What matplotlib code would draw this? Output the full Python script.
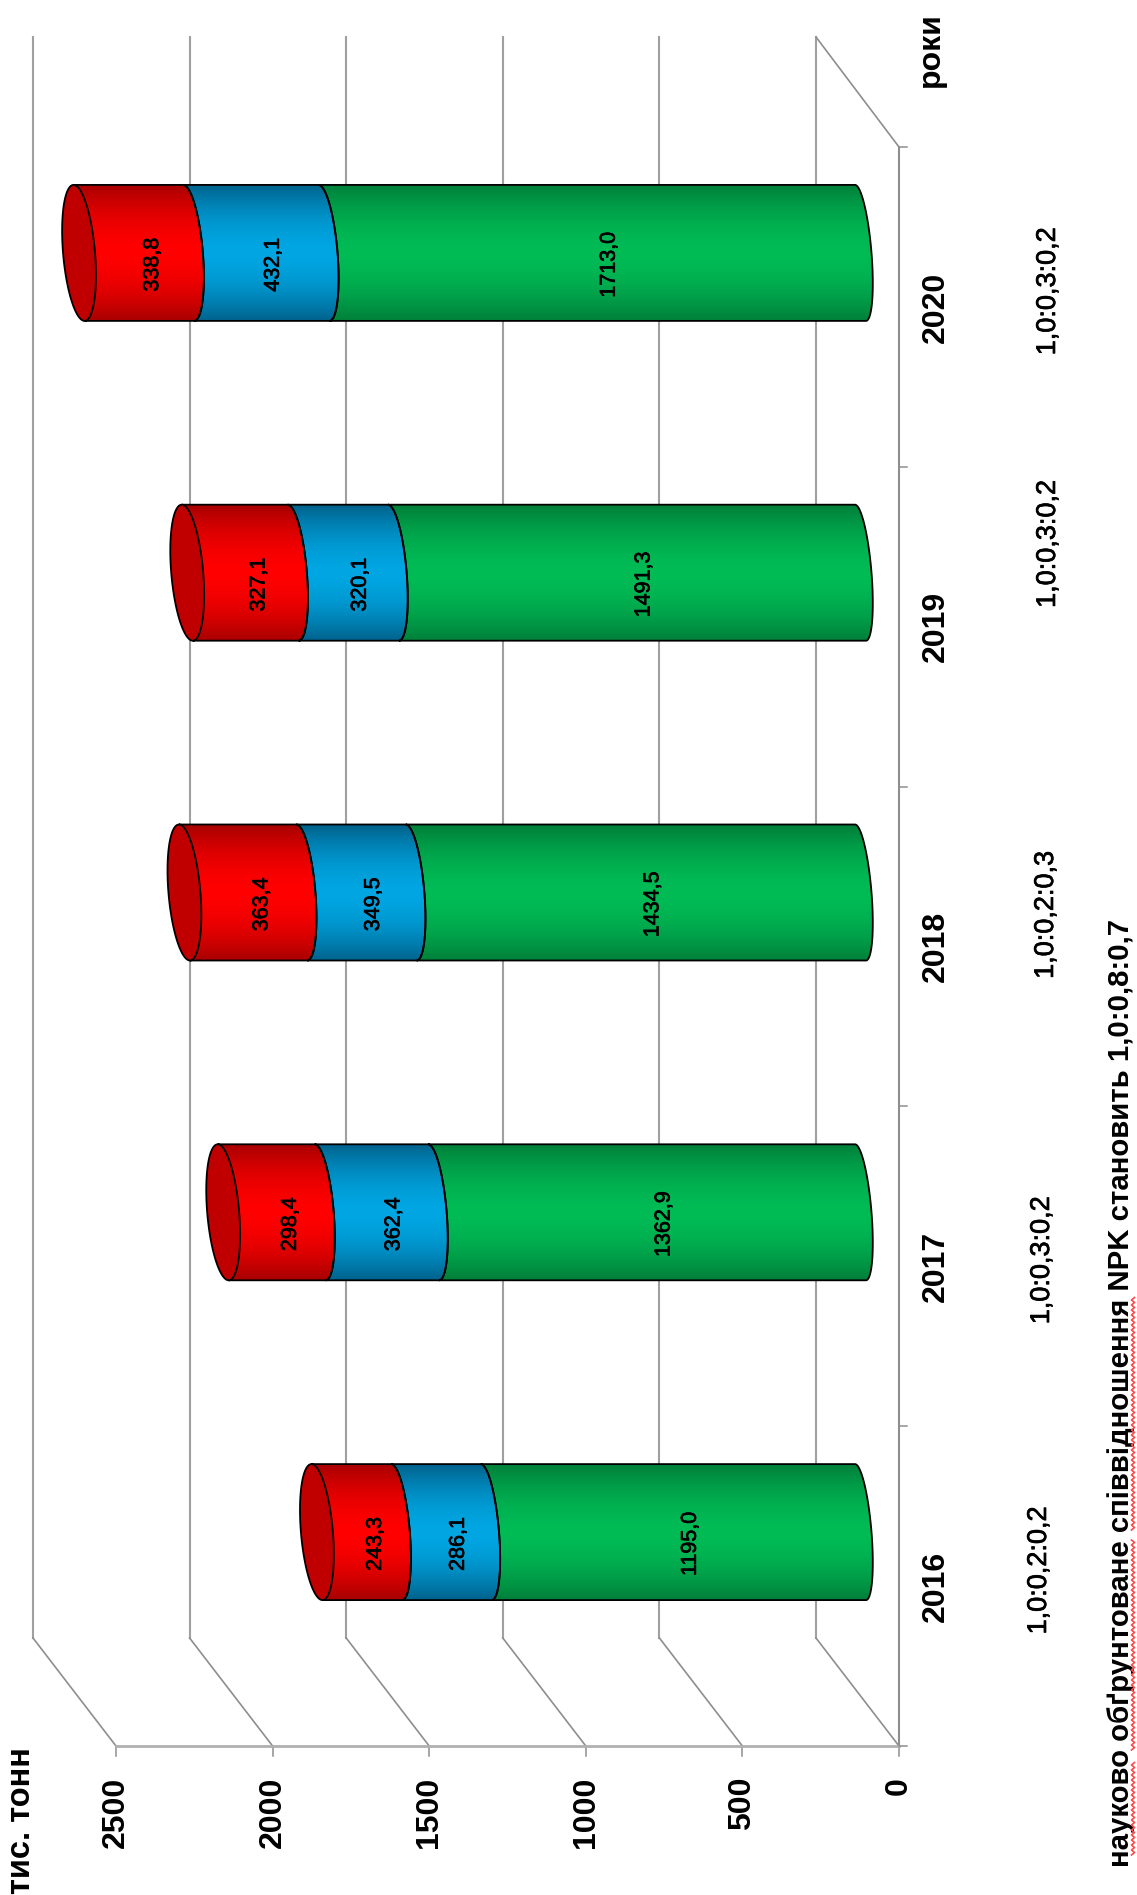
import numpy as np
import matplotlib
matplotlib.use('Agg')
import matplotlib.pyplot as plt
import matplotlib.patheffects as pe
from matplotlib.patches import Polygon

# значення з діаграми, тис. тонн
years = ['2016', '2017', '2018', '2019', '2020']
nitrogen = [1195.0, 1362.9, 1434.5, 1491.3, 1713.0]
phosphorus = [286.1, 362.4, 349.5, 320.1, 432.1]
potassium = [243.3, 298.4, 363.4, 327.1, 338.8]
labels_n = ['1195,0', '1362,9', '1434,5', '1491,3', '1713,0']
labels_p = ['286,1', '362,4', '349,5', '320,1', '432,1']
labels_k = ['243,3', '298,4', '363,4', '327,1', '338,8']
ratios = ['1,0:0,2:0,2', '1,0:0,3:0,2', '1,0:0,2:0,3', '1,0:0,3:0,2', '1,0:0,3:0,2']
value_ticks = [0, 500, 1000, 1500, 2000, 2500]

W, H = 1137, 1895
PX_V = 783 / 2500     # пікселів на тис. тонн
PX_C = 319.8          # пікселів на категорію
X0, Y0 = 899, 1746    # положення нуля на рисунку

plt.rcParams['font.family'] = ['Liberation Sans', 'DejaVu Sans']

fig = plt.figure(figsize=(W / 100, H / 100), dpi=100)
ax = fig.add_axes([0, 0, 1, 1])
ax.axis('off')

# зсув задньої стінки
wall_dv = 83 / PX_V
wall_dc = 108 / PX_C
n = len(years)
grey = '#a0a0a0'
grey2 = '#8e8e8e'
medium = [pe.withStroke(linewidth=0.5, foreground='black')]

for v in value_ticks:
    ax.plot([v + wall_dv, v + wall_dv], [wall_dc, 1709 / PX_C], color=grey, lw=1.5, zorder=1)
    ax.plot([v, v + wall_dv], [0, wall_dc], color=grey2, lw=1.2, zorder=1)
    ax.plot([v, v], [0, -10 / PX_C], color=grey2, lw=1.1, zorder=1)
    ax.text(v, -31 / PX_C, str(v), rotation=90, ha='center', va='top',
            fontsize=23, fontweight='bold', zorder=5)

ax.plot([0, 0], [0, n], color=grey2, lw=1.5, zorder=1)
ax.plot([0, 2500], [0, 0], color='#b0b0b0', lw=2, zorder=1)
ax.plot([0, wall_dv], [n, n + 110 / PX_C], color=grey2, lw=1.2, zorder=1)
for i in range(n + 1):
    ax.plot([0, -8 / PX_V], [i, i], color=grey2, lw=1.1, zorder=1)

series = [
    (nitrogen, labels_n, '#00BB55', '#007F3A'),
    (phosphorus, labels_p, '#00A6E2', '#00628C'),
    (potassium, labels_k, '#FF0000', '#A80000'),
]

half_h = 68 / PX_C       # половина висоти циліндра
shear = 5.5 / PX_V       # нахил еліпса
bar_dv = 38.5 / PX_V     # зсув циліндра в глибину
bar_dc = 54 / PX_C
cap_extra = 3.5 / PX_V   # верхівка трохи далі через перспективу
label_dv = -17 / PX_V    # підпис ближче до передньої сторони
label_dc = -12 / PX_C
t = np.linspace(-np.pi / 2, np.pi / 2, 80)


def semi_axis(v):
    return (11 + 1.5 * v / 1000) / PX_V


def edge(v, c, a):
    # половина еліпса, опукла в бік меншого значення
    return np.column_stack([v - a * np.cos(t) - shear * np.sin(t) + bar_dv,
                            c - half_h * np.sin(t)])


def gradient(light, dark):
    rgb0 = np.array(matplotlib.colors.to_rgb(dark))
    rgb1 = np.array(matplotlib.colors.to_rgb(light))
    k = np.abs(np.linspace(-1, 1, 120))[:, None] ** 1.8
    return (rgb1 * (1 - k) + rgb0 * k)[:, None, :]


for i in range(n):
    c = i + 0.5 + bar_dc
    base = 0
    for s, (vals, labs, light, dark) in enumerate(series):
        top = base + vals[i]
        draw_top = top + cap_extra if s == 2 else top
        lower = edge(base, c, semi_axis(base))
        upper = edge(draw_top, c, semi_axis(top))[::-1]
        poly = Polygon(np.vstack([lower, upper]), closed=True, facecolor='none',
                       edgecolor='black', lw=1.3, zorder=3)
        ax.add_patch(poly)
        img = ax.imshow(gradient(light, dark), aspect='auto', zorder=2,
                        extent=(draw_top + bar_dv + 150, base + bar_dv - 150, c - half_h, c + half_h),
                        origin='lower')
        img.set_clip_path(poly)
        ax.text((base + top) / 2 + bar_dv + label_dv, c + label_dc, labs[i], rotation=90,
                ha='center', va='center', fontsize=15.5, zorder=5, path_effects=medium)
        base = top
    # верхівка циліндра
    tt = np.linspace(0, 2 * np.pi, 160)
    cap_a = 16 / PX_V
    cap = np.column_stack([base + cap_extra - cap_a * np.cos(tt) - shear * np.sin(tt) + bar_dv,
                           c - half_h * np.sin(tt)])
    ax.add_patch(Polygon(cap, closed=True, facecolor='#C00000', edgecolor='black', lw=1.3, zorder=4))

ax.set_xlim(X0 / PX_V, (X0 - W) / PX_V)
ax.set_ylim((Y0 - H) / PX_C, Y0 / PX_C)

# підписи
year_x = -37 / PX_V
for i in range(n):
    ax.text(year_x, i + 0.5, years[i], rotation=90, ha='center', va='center',
            fontsize=23, fontweight='bold', zorder=5)

ratio_x = [-140, -143, -147, -149, -149]
ratio_y = [0.55, 1.52, 2.60, 3.76, 4.55]
for i in range(n):
    ax.text(ratio_x[i] / PX_V, ratio_y[i], ratios[i], rotation=90, ha='center', va='center',
            fontsize=19.5, zorder=5, path_effects=medium)

ax.text(-32 / PX_V, 1696 / PX_C, 'роки', rotation=90, ha='center', va='center',
        fontsize=23, fontweight='bold', zorder=5)
ax.text(877 / PX_V, -1 / PX_C, 'тис. тонн', rotation=90, ha='center', va='top',
        fontsize=23.5, fontweight='bold', zorder=5)
ax.text(-222 / PX_V, -121 / PX_C, 'науково обґрунтоване співвідношення NPK становить 1,0:0,8:0,7',
        rotation=90, ha='center', va='bottom', fontsize=21.2, fontweight='bold', zorder=5)

# хвиляста лінія перевірки правопису
wavy_spans = [(-109, -14), (-4, 208), (216, 451)]
for a, b in wavy_spans:
    ys = np.arange(a, b, 2.5)
    xs = np.where(np.arange(len(ys)) % 2 == 0, -232.5, -235.5)
    ax.plot(xs / PX_V, ys / PX_C, color='#ff4a4a', lw=1.2, zorder=5)

fig.savefig('out.png', dpi=100)
